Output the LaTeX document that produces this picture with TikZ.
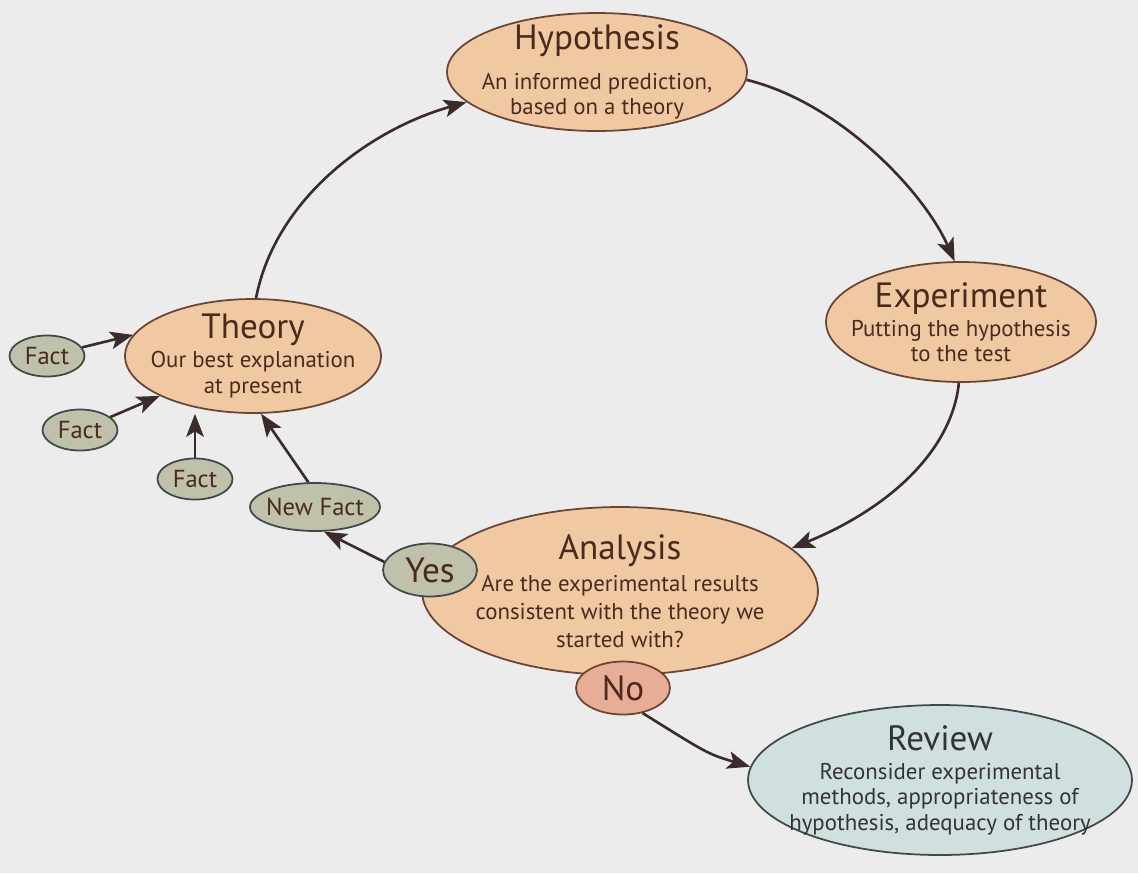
\documentclass[tikz,border=0pt]{standalone}
\usepackage{fontspec}
\setmainfont{PT Sans}
\usetikzlibrary{shapes.geometric,arrows.meta}
\definecolor{paper}{HTML}{ECECEC}
\definecolor{peach}{HTML}{F0C9A2}
\definecolor{rim}{HTML}{6A4434}
\definecolor{ink}{HTML}{4A2A1E}
\definecolor{sage}{HTML}{BFC1AA}
\definecolor{salmon}{HTML}{E8AD97}
\definecolor{mist}{HTML}{D0DFDF}
\definecolor{slate}{HTML}{3F4A48}
\definecolor{arrowink}{HTML}{3B2B2B}
\newcommand{\headline}[2][2pt]{{\fontsize{20}{22}\selectfont #2}\\[#1]}

\begin{document}
\begin{tikzpicture}[
    x=0.02cm, y=-0.02cm,
    every node/.style={align=center, text=ink, font=\fontsize{13}{14.5}\selectfont},
    stage/.style={ellipse, draw=rim, fill=peach, line width=1pt, inner sep=-2cm},
    fact/.style={ellipse, draw=slate, fill=sage, line width=1pt, inner sep=-1cm, minimum width=1.5cm, minimum height=0.82cm, font=\fontsize{14}{16}\selectfont},
    answer/.style={ellipse, draw=rim, line width=1pt, inner sep=-1cm, minimum width=1.88cm, minimum height=1.06cm, font=\fontsize{20}{22}\selectfont},
    flow arrow/.style={draw=arrowink, line width=1.5pt, -{Stealth[length=13pt, width=10pt, inset=3pt]}},
    ]
\fill[paper] (0,0) rectangle (1138,873);
\useasboundingbox (0,0) rectangle (1138,873);
\node[stage, minimum width=6cm, minimum height=2.36cm] (hypothesis) at (597,72) {\headline[8pt]{Hypothesis}An informed prediction,\\based on a theory};
\node[stage, minimum width=5.4cm, minimum height=2.4cm] (experiment) at (961,322) {\headline{Experiment}Putting the hypothesis\\to the test};
\node[stage, minimum width=5.12cm, minimum height=2.28cm] (theory) at (253,356) {\headline{Theory}Our best explanation\\at present};
\node[stage, minimum width=7.92cm, minimum height=3.36cm, font=\fontsize{13}{16}\selectfont] (analysis) at (620,591) {\headline{Analysis}Are the experimental results\\consistent with the theory we\\started with?};
\node[stage, fill=mist, draw=slate, text=black!80, minimum width=7.68cm, minimum height=3cm] (review) at (940,780) {\headline{Review}Reconsider experimental\\methods, appropriateness of\\hypothesis, adequacy of theory};
\node[fact] (fact1) at (47,356) {Fact};
\node[fact] (fact2) at (80,430) {Fact};
\node[fact] (fact3) at (195,479) {Fact};
\node[fact, minimum width=2.6cm, minimum height=0.96cm] (newfact) at (315,507) {New Fact};
\node[answer, fill=sage, draw=slate] (yes) at (430,570) {Yes};
\node[answer, fill=salmon] (no) at (623,688) {No};
\draw[flow arrow] (theory.87) .. controls (275,200) and (368,130) .. (hypothesis.193);
\draw[flow arrow] (hypothesis.-3) .. controls (838,102) and (923,190) .. (experiment.96);
\draw[flow arrow] (experiment.-92) .. controls (952,450) and (890,508) .. (analysis.14);
\draw[flow arrow] (no.-52) .. controls (708,754) .. (review.176);
\draw[flow arrow] (yes.170) -- (newfact.-70);
\draw[flow arrow] (newfact.105) -- (theory.-82);
\draw[flow arrow] (fact1) -- (theory.170);
\draw[flow arrow] (fact2) -- (theory);
\draw[flow arrow] (fact3) -- (fact3 |- theory.south);
\end{tikzpicture}
\end{document}
